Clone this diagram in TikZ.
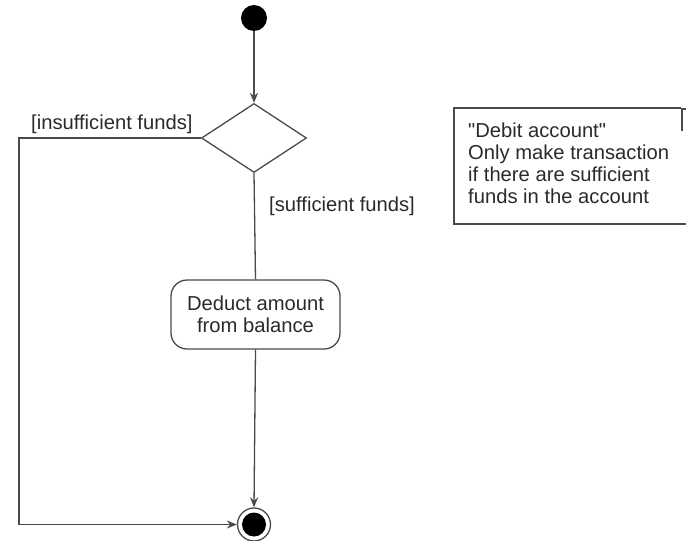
\documentclass[tikz,border=0pt]{standalone}
\usepackage{fontspec}
\setmainfont{Liberation Sans}[Ligatures=TeXOff]
\usetikzlibrary{shapes.geometric,arrows.meta}
\definecolor{linegray}{HTML}{4A4A4A}
\definecolor{textgray}{HTML}{2A2A2A}
\begin{document}
\begin{tikzpicture}[x=1pt,y=-1pt,
  every node/.style={font=\fontsize{20.2}{22.5}\selectfont,text=textgray},
  flow/.style={draw=linegray,line width=1.3pt},
  arrowed/.style={flow,-{Stealth[length=10pt,width=8pt]}},
  decision/.style={diamond,draw=linegray,line width=1.3pt,minimum width=105pt,minimum height=69pt,inner sep=0pt,aspect=1.52},
  activity/.style={draw=linegray,line width=1.3pt,rounded corners=16pt,minimum width=169pt,minimum height=69pt,align=center,inner sep=0pt},
  guard/.style={inner sep=0pt}]
\useasboundingbox (0,0) rectangle (686,541);

% initial and final states
\node[circle,fill=black,minimum size=26pt,inner sep=0pt] (start) at (254,18) {};
\node[circle,draw=linegray,line width=1.3pt,minimum size=33pt,inner sep=0pt] (final) at (254,524.5) {};
\fill[black] (final.center) circle (12pt);

% decision and activity
\node[decision] (dec) at (254,138) {};
\node[activity] (act) at (255.5,314.5) {Deduct amount\\from balance};

% bends of the insufficient-funds branch
\coordinate (bendtop) at (19,138);
\coordinate (bendbot) at (19,524.5);

% connectors
\draw[arrowed] (start) -- (dec.north);
\draw[flow] (dec.south) -- (act.north);
\draw[arrowed] (act.south) -- (final.north);
\draw[arrowed] (dec.west) -- (bendtop) -- (bendbot) -- (final.west);

% guards
\node[guard,anchor=base west] (gin) at (31,129) {[insufficient funds]};
\node[guard,anchor=base west] (gsu) at (269,211) {[sufficient funds]};

% note
\draw[flow,line width=1.1pt] (686,224) -- (454,224) -- (454,108) -- (681,108);
\draw[flow,line width=1.1pt] (682,131) -- (682,109) -- (686,109);
\node[anchor=north west,align=left,inner sep=0pt,font=\fontsize{20.2}{22}\selectfont] (notetext) at (468,123)
  {"Debit account"\\Only make transaction\\if there are sufficient\\funds in the account};
\end{tikzpicture}
\end{document}
